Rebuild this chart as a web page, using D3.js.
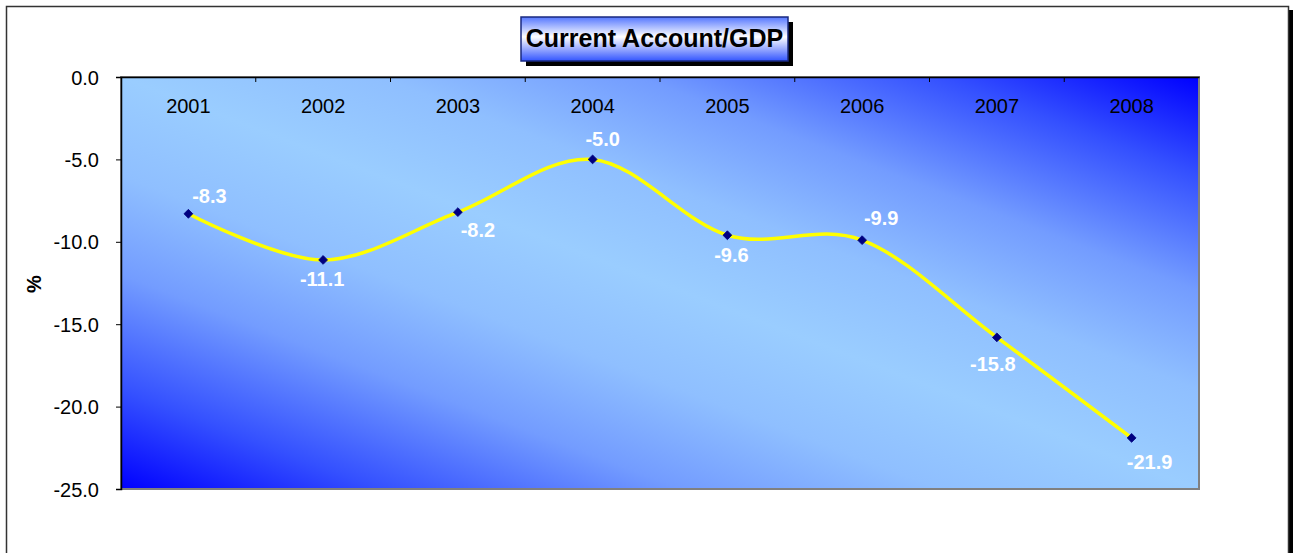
<!DOCTYPE html>
<html><head><meta charset="utf-8">
<script src="https://cdn.jsdelivr.net/npm/d3@7"></script>
<style>html,body{margin:0;padding:0;background:#fff;overflow:hidden}</style>
</head><body>
<svg id="chart" width="1293" height="553"></svg>
<script>
const years = ["2001","2002","2003","2004","2005","2006","2007","2008"];
const values = [-8.3, -11.1, -8.2, -5.0, -9.6, -9.9, -15.8, -21.9];
const yTicks = [0, -5, -10, -15, -20, -25];
const title = "Current Account/GDP";
const yTitle = "%";
// label offsets relative to markers (layout only)
const labelDx = [21, -1, 20, 10, 4, 19, -4, 18];
const labelDy = [-11, 26, 25, -13, 27, -15, 34, 31];

const FONT = "Arial, 'Liberation Sans', sans-serif";
const fmt = v => v.toFixed(1);

const svg = d3.select("#chart");
const W = 1293, H = 553;
const plot = {left:121, top:77, right:1199, bottom:489};

const defs = svg.append("defs");
const bg = defs.append("linearGradient").attr("id","bg")
  .attr("x1",0).attr("y1",1).attr("x2",1).attr("y2",0);
[[0,"#0000ff"],[0.12,"#3450ff"],[0.26,"#739cff"],[0.38,"#8fbfff"],[0.5,"#9acdff"],
 [0.62,"#8fbfff"],[0.74,"#739cff"],[0.88,"#3450ff"],[1,"#0000ff"]].forEach(s=>
  bg.append("stop").attr("offset",s[0]).attr("stop-color",s[1]));

const tg = defs.append("linearGradient").attr("id","tg")
  .attr("x1",0).attr("y1",0).attr("x2",0).attr("y2",1);
tg.append("stop").attr("offset",0).attr("stop-color","#5577ff");
tg.append("stop").attr("offset",0.45).attr("stop-color","#ffffff");
tg.append("stop").attr("offset",1).attr("stop-color","#3355ff");

// outer frame with shadow
svg.append("rect").attr("x",10).attr("y",10).attr("width",W-10).attr("height",H).attr("fill","#000");
svg.append("rect").attr("x",6.5).attr("y",6.5).attr("width",1282).attr("height",H).attr("fill","#fff").attr("stroke","#333").attr("stroke-width",1.5);

const x = d3.scaleBand().domain(years).range([plot.left, plot.right]);
const y = d3.scaleLinear().domain([-25, 0]).range([plot.bottom, plot.top]);
const cx = yr => x(yr) + x.bandwidth()/2;

// plot background
svg.append("rect").attr("x",plot.left).attr("y",plot.top)
  .attr("width",plot.right-plot.left).attr("height",plot.bottom-plot.top)
  .attr("fill","url(#bg)").attr("stroke","#808080").attr("stroke-width",2);

// y axis
const yAxis = svg.append("g").attr("transform",`translate(${plot.left},0)`)
  .call(d3.axisLeft(y).tickValues(yTicks).tickFormat(fmt).tickSize(5).tickPadding(17));
yAxis.select(".domain").attr("stroke","#000").attr("stroke-width",1.5);
yAxis.attr("font-family",FONT).attr("font-size",20);
yAxis.selectAll("text").attr("fill","#000").attr("dy","0.35em");

// x axis at y=0 (top) with ticks inward
const xAxis = svg.append("g").attr("transform",`translate(0,${y(0)})`)
  .call(d3.axisBottom(x).tickSize(0).tickFormat(""));
xAxis.select(".domain").attr("stroke","#000").attr("stroke-width",1.5);
const bounds = years.slice(1).map(yy => x(yy));
svg.append("g").selectAll("line").data(bounds).join("line")
  .attr("x1",d=>d).attr("x2",d=>d).attr("y1",y(0)).attr("y2",y(0)+5)
  .attr("stroke","#000").attr("stroke-width",1);
svg.append("g").selectAll("text").data(years).join("text")
  .attr("x",d=>cx(d)).attr("y",y(0)+36)
  .attr("text-anchor","middle")
  .attr("font-family",FONT).attr("font-size",20).attr("fill","#000")
  .text(d=>d);

// line
const pts = years.map((yr,i)=>({yr, v:values[i], dx:labelDx[i], dy:labelDy[i]}));
const line = d3.line().x(d=>cx(d.yr)).y(d=>y(d.v)).curve(d3.curveCardinal.tension(0));
svg.append("path").datum(pts).attr("d",line).attr("fill","none")
  .attr("stroke","#ffff00").attr("stroke-width",3.5);

// markers
svg.append("g").selectAll("path").data(pts).join("path")
  .attr("transform",d=>`translate(${cx(d.yr)},${y(d.v)})`)
  .attr("d",d3.symbol(d3.symbolDiamond2, 50)).attr("fill","#000080").attr("stroke","#000080").attr("stroke-width",0.8);

// data labels
svg.append("g").selectAll("text").data(pts).join("text")
  .attr("x",d=>cx(d.yr)+d.dx)
  .attr("y",d=>y(d.v)+d.dy)
  .attr("text-anchor","middle")
  .attr("font-family",FONT).attr("font-size",20).attr("font-weight","bold").attr("fill","#fff")
  .text(d=>fmt(d.v));

// y title
svg.append("text").attr("transform","translate(41,284) rotate(-90)")
  .attr("text-anchor","middle")
  .attr("font-family",FONT).attr("font-size",20).attr("font-weight","bold").attr("fill","#000")
  .text(yTitle);

// title box
const tb = {x:521, y:17, w:267, h:44};
svg.append("rect").attr("x",tb.x+5).attr("y",tb.y+5).attr("width",tb.w).attr("height",tb.h).attr("fill","#000");
svg.append("rect").attr("x",tb.x).attr("y",tb.y).attr("width",tb.w).attr("height",tb.h)
  .attr("fill","url(#tg)").attr("stroke","#1a2a80").attr("stroke-width",1.5);
svg.append("text").attr("x",tb.x+tb.w/2).attr("y",tb.y+30)
  .attr("text-anchor","middle")
  .attr("font-family",FONT).attr("font-size",25).attr("font-weight","bold").attr("fill","#000")
  .text(title);
</script>
</body></html>
